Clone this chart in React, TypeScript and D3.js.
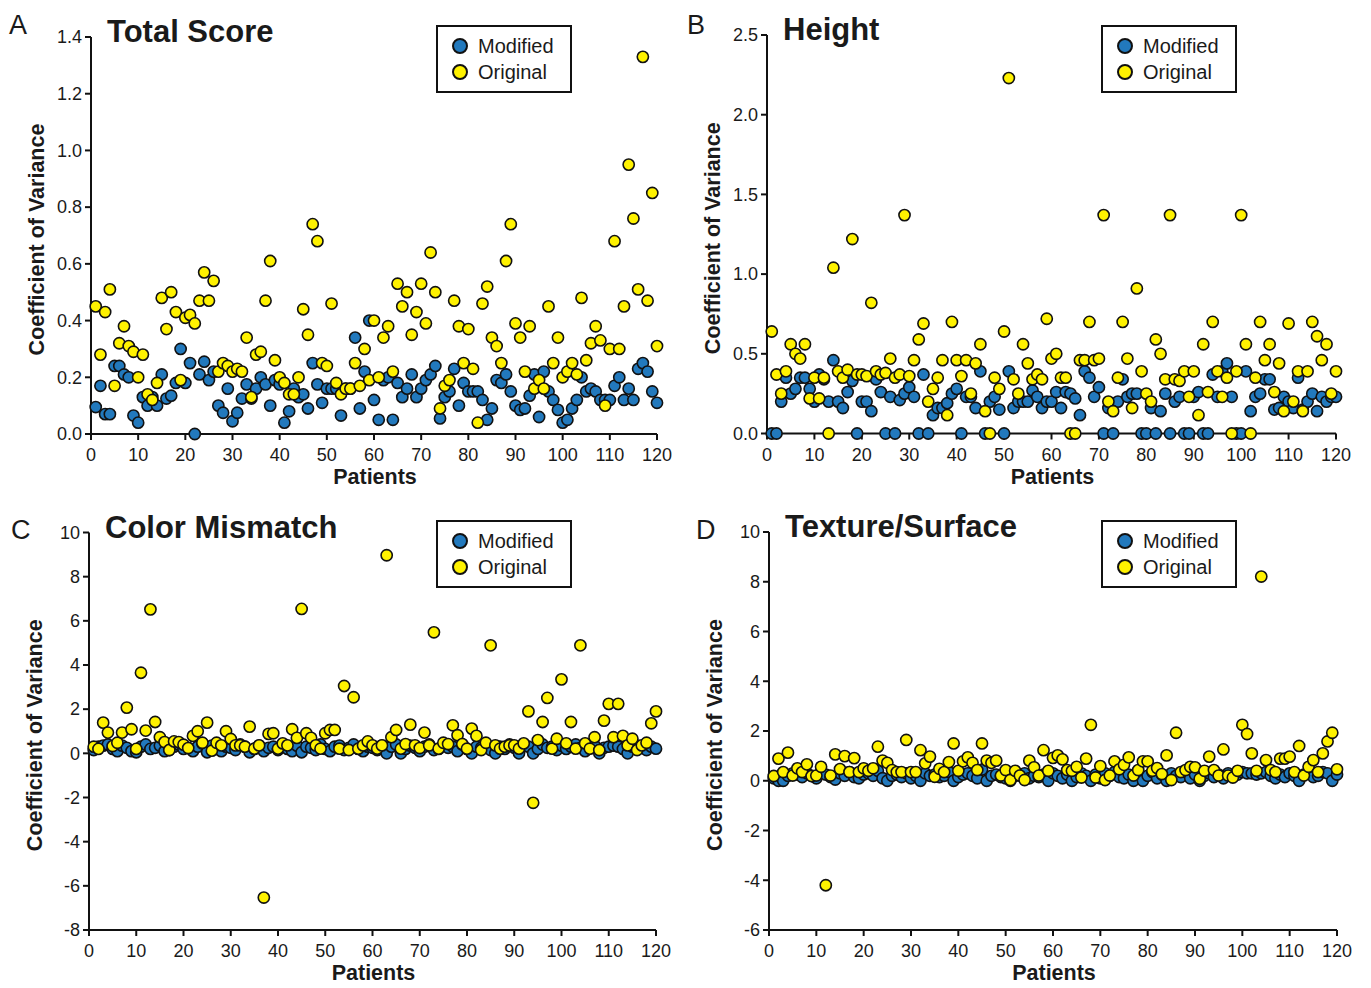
import React from "react";
import * as d3 from "d3";

const patients: number[] = d3.range(1, 121);

const modifiedA = [0.095,0.17,0.07,0.07,0.24,0.24,0.21,0.20,0.065,0.04,
0.13,0.10,0.13,0.10,0.21,0.125,0.135,0.18,0.30,0.18,
0.25,0.0,0.21,0.255,0.19,0.22,0.10,0.075,0.16,0.045,
0.075,0.125,0.175,0.125,0.16,0.20,0.175,0.10,0.19,0.175,
0.04,0.08,0.16,0.13,0.14,0.09,0.25,0.175,0.11,0.16,
0.16,0.16,0.065,0.16,0.16,0.34,0.09,0.22,0.40,0.12,
0.05,0.19,0.20,0.05,0.18,0.13,0.16,0.21,0.13,0.16,
0.19,0.21,0.24,0.055,0.13,0.15,0.23,0.10,0.18,0.15,
0.15,0.15,0.12,0.05,0.09,0.19,0.18,0.21,0.15,0.10,
0.085,0.09,0.135,0.21,0.06,0.22,0.15,0.12,0.085,0.04,
0.05,0.09,0.12,0.20,0.15,0.16,0.15,0.12,0.12,0.12,
0.17,0.20,0.12,0.16,0.12,0.23,0.25,0.22,0.15,0.11];

const originalA = [0.45,0.28,0.43,0.51,0.17,0.32,0.38,0.31,0.29,0.20,
0.28,0.14,0.12,0.18,0.48,0.37,0.50,0.43,0.19,0.41,
0.42,0.39,0.47,0.57,0.47,0.54,0.22,0.25,0.24,0.22,
0.23,0.22,0.34,0.13,0.28,0.29,0.47,0.61,0.26,0.20,
0.18,0.14,0.14,0.20,0.44,0.35,0.74,0.68,0.25,0.24,
0.46,0.18,0.14,0.16,0.16,0.25,0.17,0.30,0.19,0.40,
0.20,0.34,0.38,0.22,0.53,0.45,0.50,0.35,0.43,0.53,
0.39,0.64,0.50,0.09,0.17,0.19,0.47,0.38,0.25,0.37,
0.23,0.04,0.46,0.52,0.34,0.31,0.25,0.61,0.74,0.39,
0.34,0.22,0.38,0.16,0.19,0.16,0.45,0.25,0.34,0.20,
0.22,0.25,0.21,0.48,0.26,0.32,0.38,0.33,0.10,0.30,
0.68,0.30,0.45,0.95,0.76,0.51,1.33,0.47,0.85,0.31];

const modifiedB = [0,0,0.20,0.35,0.25,0.28,0.35,0.35,0.28,0.20,
0.37,0.34,0.20,0.46,0.20,0.16,0.26,0.33,0,0.20,
0.20,0.14,0.34,0.26,0,0.23,0,0.21,0.25,0.29,
0.23,0,0.37,0,0.115,0.16,0.16,0.19,0.25,0.28,
0,0.23,0.23,0.16,0.39,0,0.20,0.23,0.15,0,
0.39,0.16,0.20,0.20,0.20,0.27,0.23,0.16,0.20,0.20,
0.26,0.16,0.26,0.25,0.22,0.115,0.39,0.35,0.23,0.29,
0,0.16,0,0.20,0.34,0.23,0.25,0.25,0,0,
0.16,0,0.14,0.25,0,0.20,0.23,0,0,0.23,
0.26,0,0,0.37,0.23,0.39,0.44,0.23,0,0,
0.39,0.14,0.23,0.25,0.34,0.34,0.15,0.16,0.23,0.20,
0.16,0.35,0.15,0.20,0.25,0.14,0.23,0.20,0.23,0.23];

const originalB = [0.64,0.37,0.25,0.39,0.56,0.50,0.47,0.56,0.22,0.35,
0.22,0.35,0,1.04,0.39,0.35,0.40,1.22,0.37,0.37,
0.36,0.82,0.39,0.37,0.38,0.47,0.35,0.37,1.37,0.36,
0.46,0.59,0.69,0.20,0.28,0.35,0.46,0.115,0.70,0.46,
0.36,0.46,0.25,0.44,0.56,0.14,0,0.35,0.28,0.64,
2.23,0.34,0.25,0.56,0.44,0.34,0.37,0.34,0.72,0.47,
0.50,0.35,0.35,0,0,0.46,0.46,0.70,0.46,0.47,
1.37,0.20,0.14,0.35,0.70,0.47,0.16,0.91,0.39,0.25,
0.20,0.59,0.50,0.34,1.37,0.34,0.33,0.39,0.23,0.39,
0.115,0.56,0.26,0.70,0.39,0.23,0.35,0,0.39,1.37,
0.56,0,0.35,0.70,0.46,0.56,0.26,0.44,0.14,0.69,
0.20,0.39,0.14,0.39,0.70,0.61,0.46,0.56,0.25,0.39];

const modifiedC = [0.15,0.3,0.35,0.4,0.2,0.1,0.35,0.25,0.1,0.05,
0.3,0.4,0.2,0.25,0.35,0.1,0.15,0.3,0.4,0.2,
0.25,0.1,0.3,0.45,0.05,0.35,0.2,0.1,0.3,0.25,
0.15,0.4,0.3,0.05,0.2,0.35,0.1,0.25,0.3,0.15,
0.4,0.2,0.1,0.35,0.05,0.3,0.25,0.15,0.4,0.2,
0.1,0.3,0.35,0.15,0.25,0.4,0.2,0.1,0.3,0.25,
0.15,0.35,0.0,0.3,0.4,0.0,0.2,0.35,0.25,0.1,
0.3,0.4,0.15,0.2,0.35,0.25,0.3,0.1,0.4,0.2,
0.0,0.3,0.25,0.35,0.15,0.0,0.3,0.2,0.4,0.25,
0.0,0.35,0.3,0.0,0.2,0.4,0.25,0.3,0.15,0.35,
0.2,0.3,0.4,0.25,0.1,0.3,0.35,0.0,0.25,0.3,
0.35,0.3,0.2,0.0,0.3,0.35,0.25,0.15,0.3,0.21];

const originalC = [0.30,0.20,1.39,0.94,0.33,0.48,0.94,2.07,1.09,0.20,
3.65,1.03,6.52,1.42,0.73,0.51,0.15,0.54,0.51,0.39,
0.24,0.79,1.0,0.48,1.39,0.12,0.48,0.36,1.0,0.65,
0.36,0.36,0.30,1.21,0.21,0.36,-6.53,0.88,0.91,0.21,
0.45,0.36,1.09,0.70,6.54,0.91,0.70,0.36,0.21,0.91,
1.06,1.06,0.21,3.05,0.15,2.54,0.21,0.36,0.54,0.36,
0.21,0.36,8.97,0.73,1.06,0.21,0.42,1.30,0.36,0.24,
0.94,0.36,5.48,0.21,0.48,0.42,1.27,0.82,0.42,0.21,
1.12,0.79,0.15,0.48,4.89,0.36,0.21,0.30,0.36,0.36,
0.21,0.45,1.90,-2.24,0.60,1.42,2.51,0.21,0.66,3.35,
0.45,1.42,0.21,4.89,0.45,0.21,0.73,0.15,1.48,2.24,
0.73,2.24,0.79,0.36,0.66,0.15,0.36,0.48,1.36,1.90];

const modifiedD = [0.1,0.0,0.0,0.2,0.3,0.25,0.15,0.3,0.2,0.1,
0.35,0.25,0.15,0.05,0.3,0.2,0.35,0.15,0.1,0.25,
0.3,0.2,0.4,0.1,0.0,0.2,0.25,0.15,0.3,0.1,
0.2,0.0,0.3,0.2,0.25,0.15,0.2,0.35,0.0,0.15,
0.25,0.3,0.2,0.1,0.45,0.0,0.2,0.25,0.15,0.1,
0.0,0.2,0.25,0.3,0.1,0.2,0.15,0.25,0.0,0.3,
0.2,0.1,0.25,0.0,0.15,0.3,0.2,0.0,0.25,0.1,
0.3,0.2,0.35,0.15,0.1,0.25,0.0,0.3,0.0,0.2,
0.35,0.1,0.25,0.0,0.3,0.2,0.15,0.35,0.1,0.25,
0.0,0.2,0.3,0.15,0.25,0.1,0.3,0.2,0.25,0.35,
0.3,0.3,0.25,0.3,0.35,0.2,0.1,0.25,0.15,0.3,
0.2,0.0,0.25,0.3,0.15,0.2,0.35,0.3,0.0,0.25];

const originalD = [0.19,0.89,0.35,1.13,0.21,0.50,0.35,0.66,0.19,0.21,
0.56,-4.2,0.21,1.06,0.47,0.99,0.35,0.91,0.35,0.50,
0.40,0.50,1.37,0.81,0.72,0.43,0.35,0.35,1.64,0.35,
0.35,1.23,0.70,0.97,0.16,0.48,0.35,0.75,1.50,0.40,
0.78,0.94,0.72,0.43,1.50,0.81,0.72,0.81,0.21,0.43,
0.03,0.40,0.21,0.03,0.81,0.54,0.21,1.23,0.40,0.92,
1.02,0.86,0.43,0.40,0.56,0.13,0.89,2.25,0.13,0.59,
0.03,0.21,0.78,0.46,0.64,0.94,0.21,0.43,0.78,0.78,
0.40,0.51,0.27,1.02,0.03,1.93,0.35,0.43,0.56,0.54,
0.08,0.40,0.97,0.43,0.21,1.26,0.21,0.13,0.40,2.25,
1.88,1.10,0.40,8.21,0.83,0.43,0.35,0.89,0.89,0.97,
0.35,1.40,0.21,0.56,0.83,0.35,1.10,1.58,1.93,0.46];

const xTicks = [0, 10, 20, 30, 40, 50, 60, 70, 80, 90, 100, 110, 120];
const seriesNames = ["Modified", "Original"];
const titles = ["Total Score", "Height", "Color Mismatch", "Texture/Surface"];
const letters = ["A", "B", "C", "D"];
const yLabel = "Coefficient of Variance";
const xLabel = "Patients";

const BLUE = "#2279bd";
const YELLOW = "#fff200";
const FONT = "'Liberation Sans', Arial, Helvetica, sans-serif";
const TXT = "#1a1a1a";

type PanelProps = {
  letter: string;
  title: string;
  modified: number[];
  original: number[];
  domain: [number, number];
  step: number;
  fmt: string;
  x0: number; x1: number; yTop: number; yBot: number;
  letterX: number; letterY: number;
  legend: [number, number];
};

function Panel(p: PanelProps) {
  const x = d3.scaleLinear().domain([0, 120]).range([p.x0, p.x1]);
  const y = d3.scaleLinear().domain(p.domain).range([p.yBot, p.yTop]);
  const yTicks = d3.range(p.domain[0], p.domain[1] + p.step / 2, p.step);
  const f = (t: number) => d3.format(p.fmt)(t).replace("\u2212", "-");
  const r = 5.6;
  const [lx, ly] = p.legend;
  return (
    <g fontFamily={FONT}>
      <text x={p.letterX} y={p.letterY} fontSize={27} fill={TXT}>{p.letter}</text>
      <text x={p.x0 + 16} y={p.yTop + 5} fontSize={31} fontWeight="bold" fill={TXT}>{p.title}</text>
      <line x1={p.x0} x2={p.x0} y1={p.yTop} y2={p.yBot} stroke="#111" strokeWidth={2} />
      <line x1={p.x0} x2={p.x1} y1={p.yBot} y2={p.yBot} stroke="#111" strokeWidth={2} />
      {yTicks.map((t) => (
        <g key={"y" + t}>
          <line x1={p.x0 - 6} x2={p.x0} y1={y(t)} y2={y(t)} stroke="#111" strokeWidth={2} />
          <text x={p.x0 - 9} y={y(t)} dy="0.35em" textAnchor="end" fontSize={18} fill={TXT}>{f(t)}</text>
        </g>
      ))}
      {xTicks.map((t) => (
        <g key={"x" + t}>
          <line x1={x(t)} x2={x(t)} y1={p.yBot} y2={p.yBot + 6} stroke="#111" strokeWidth={2} />
          <text x={x(t)} y={p.yBot + 27} textAnchor="middle" fontSize={18} fill={TXT}>{t}</text>
        </g>
      ))}
      <text
        transform={`translate(${p.x0 - 47},${(p.yTop + p.yBot) / 2 + 4}) rotate(-90)`}
        textAnchor="middle" fontSize={21.5} fontWeight="bold" fill={TXT}
      >{yLabel}</text>
      <text x={(p.x0 + p.x1) / 2 + 1} y={p.yBot + 50} textAnchor="middle" fontSize={21.5} fontWeight="bold" fill={TXT}>{xLabel}</text>
      {p.modified.map((v, i) => (
        <circle key={"m" + i} cx={x(patients[i])} cy={y(v)} r={r} fill={BLUE} stroke="#111" strokeWidth={1.6} />
      ))}
      {p.original.map((v, i) => (
        <circle key={"o" + i} cx={x(patients[i])} cy={y(v)} r={r} fill={YELLOW} stroke="#111" strokeWidth={1.6} />
      ))}
      <rect x={lx} y={ly} width={134} height={66} fill="white" stroke="#111" strokeWidth={2} />
      {seriesNames.map((s, i) => (
        <g key={s}>
          <circle cx={lx + 23} cy={ly + 20 + i * 26} r={7} fill={i === 0 ? BLUE : YELLOW} stroke="#111" strokeWidth={2} />
          <text x={lx + 41} y={ly + 20 + i * 26} dy="0.36em" fontSize={20} fill={TXT}>{s}</text>
        </g>
      ))}
    </g>
  );
}

export default function App() {
  return (
    <svg width={1371} height={988} style={{ position: "absolute", left: 0, top: 0, background: "white" }}>
      <Panel letter={letters[0]} title={titles[0]} modified={modifiedA} original={originalA}
        domain={[0, 1.4]} step={0.2} fmt=".1f" x0={91} x1={657} yTop={37} yBot={434}
        letterX={9} letterY={34} legend={[437, 26]} />
      <Panel letter={letters[1]} title={titles[1]} modified={modifiedB} original={originalB}
        domain={[0, 2.5]} step={0.5} fmt=".1f" x0={767} x1={1336} yTop={35} yBot={433.5}
        letterX={687} letterY={34} legend={[1102, 26]} />
      <Panel letter={letters[2]} title={titles[2]} modified={modifiedC} original={originalC}
        domain={[-8, 10]} step={2} fmt="d" x0={89} x1={656} yTop={532.5} yBot={930}
        letterX={11} letterY={539} legend={[437, 521]} />
      <Panel letter={letters[3]} title={titles[3]} modified={modifiedD} original={originalD}
        domain={[-6, 10]} step={2} fmt="d" x0={769} x1={1337} yTop={532} yBot={930}
        letterX={696} letterY={539} legend={[1102, 521]} />
    </svg>
  );
}
